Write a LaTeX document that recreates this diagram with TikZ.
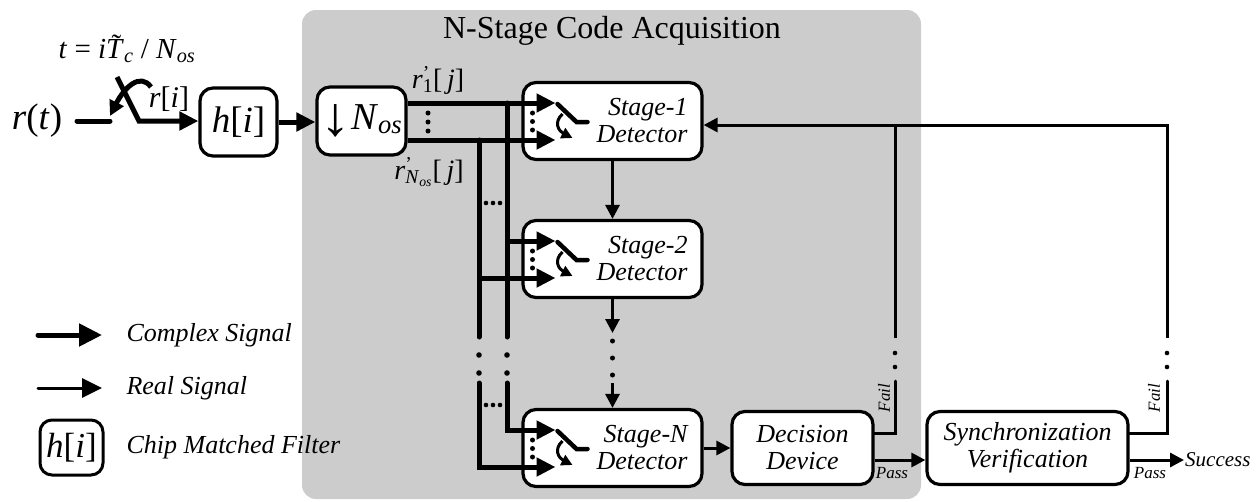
\documentclass[tikz,border=0pt]{standalone}
\usepackage{fontspec}
\setmainfont{Liberation Serif}
\usetikzlibrary{arrows.meta}
\definecolor{panelgray}{HTML}{CCCCCC}
\newcommand{\sig}[1]{\textit{#1}}
\newcommand{\tildeT}{\makebox[0pt][l]{\kern0.19em\raisebox{0.14em}{˜}}\sig{T}}
\newcommand{\downarr}{\raisebox{-0.16em}{\scalebox{1.6}[1.45]{\textbf{↓}}}}
\begin{document}
\begin{tikzpicture}[x=1pt,y=-1pt,
  box/.style={draw, line width=3.2pt, rounded corners=13pt, fill=white, inner sep=0pt},
  cplx/.style={line width=5pt, -{Triangle[length=19pt,width=18pt]}},
  realsig/.style={line width=3pt, -{Triangle[length=14pt,width=14pt]}},
  wire/.style={line width=3pt},
  bus/.style={line width=5pt},
  lbl/.style={font=\fontsize{26}{27}\selectfont\itshape, align=center},
  small/.style={font=\fontsize{17}{17}\selectfont\itshape, inner sep=1pt}
]
\useasboundingbox (0,0) rectangle (1258,501);

% acquisition panel
\fill[panelgray, rounded corners=14pt] (302,10) rectangle (921,499);
\node[font=\fontsize{32}{32}\selectfont] (title) at (612,31) {N-Stage Code Acquisition};

% input sampling switch, chip matched filter and down-sampler
\node[font=\fontsize{37}{37}\selectfont] (rt) at (37,121) {\sig{r}(\sig{t})};
\node[font=\fontsize{29}{29}\selectfont] (tlab) at (127,49)
  {\sig{t} = \sig{i}\tildeT\textsubscript{\sig{c}} / \sig{N}\textsubscript{\sig{os}}};
\node[box, minimum width=77pt, minimum height=68pt, font=\fontsize{37}{37}\selectfont] (h) at (238.5,122) {\sig{h}[\sig{i}]};
\node[box, minimum width=89pt, minimum height=68pt, font=\fontsize{38}{38}\selectfont] (nos) at (361.5,121) {\downarr\sig{N}\textsubscript{\sig{os}}};
\node[font=\fontsize{30}{30}\selectfont] (ri) at (169,99) {\sig{r}[\sig{i}]};

\coordinate (rin) at (77,121);
\coordinate (swin) at (110,121);
\coordinate (piv) at (139,121);
\coordinate (lever) at (117,77);
\coordinate (arcs) at (151,87);
\coordinate (arce) at (110,116);
\draw[bus, line cap=round] (rin) -- (swin);
\draw[cplx] (lever) -- (piv) -- (h.west |- piv);
\draw[line width=5pt, -{Triangle[length=15pt,width=15pt]}]
  (arcs) .. controls (140,72) and (124,88) .. (arce);
\draw[cplx] (h) -- (nos.west |- h);

% detector stages
\foreach \n/\y/\k in {stage1/121/1, stage2/259/2, stageN/448/N} {
  \node[box, minimum width=179pt, minimum height=77pt, lbl, text width=150pt, align=right]
    (\n) at (612.5,\y) {Stage-\k\\Detector};
  \begin{scope}[shift={(\n.center)}]
    \coordinate (\n-a) at (-57,-18);
    \coordinate (\n-b) at (-57,19);
    \coordinate (\n-p) at (-36,1);
    \draw[line width=4.5pt, line cap=round] (-55,-17) -- (\n-p) -- (-25,1);
    \draw[line width=3pt, -{Triangle[length=11pt,width=11pt]}]
      (-50,-7) .. controls (-59,1) and (-54,10) .. (-40,17);
    \foreach \d in {-8,0.5,9} \fill (-80,\d) circle[radius=2.5pt];
  \end{scope}
}

% polyphase outputs and distribution buses
\node[font=\fontsize{28}{28}\selectfont] (r1lab) at (438,80)
  {\sig{r}\rlap{\textsuperscript{'}}\textsubscript{1}[\,\sig{j}]};
\node[font=\fontsize{28}{28}\selectfont] (rnlab) at (429,172)
  {\sig{r}\rlap{\textsuperscript{'}}\textsubscript{\sig{N}\textsubscript{\sig{os}}}[\,\sig{j}]};
\draw[cplx] (nos.east |- stage1-a) -- (stage1-a);
\draw[cplx] (nos.east |- stage1-b) -- (stage1-b);
\foreach \d in {113,122,131} \fill (428,\d) circle[radius=2.5pt];

\coordinate (bR) at (507,337);
\coordinate (bL) at (479,337);
\coordinate (bR2) at (507,383);
\coordinate (bL2) at (479,383);
\draw[bus, line cap=round] (bR |- stage1-a) -- (bR);
\draw[bus, line cap=round] (bL |- stage1-b) -- (bL);
\draw[cplx] (bR |- stage2-a) -- (stage2-a);
\draw[cplx] (bL |- stage2-b) -- (stage2-b);
\draw[cplx, line cap=round] (bR2) -- (bR2 |- stageN-a) -- (stageN-a);
\draw[cplx, line cap=round] (bL2) -- (bL2 |- stageN-b) -- (stageN-b);
\foreach \x in {479,507} \foreach \yy in {355,373} \fill (\x,\yy) circle[radius=2.8pt];
\foreach \x in {486,493,500} {
  \fill (\x,203) circle[radius=2.3pt];
  \fill (\x,405) circle[radius=2.3pt];
}

% stage chaining
\coordinate (v2end) at (612.5,333);
\coordinate (vNstart) at (612.5,383);
\draw[realsig] (stage1) -- (stage2);
\draw[realsig] (stage2.south) -- (v2end);
\foreach \yy in {341,358,375} \fill (612.5,\yy) circle[radius=2.5pt];
\draw[realsig] (vNstart) -- (stageN.north);

% decision and verification
\node[box, minimum width=141pt, minimum height=73pt, lbl] (dec) at (802.5,448) {Decision\\Device};
\node[box, minimum width=201pt, minimum height=73pt, lbl] (sync) at (1027.5,448) {Synchronization\\Verification};
\draw[realsig] (stageN) -- (dec);
\draw[realsig] ([yshift=-12pt]dec.east) -- ([yshift=-12pt]sync.west);
\node[small] (dpass) at (892,473) {Pass};
\node[small, rotate=90] (dfail) at (884,398) {Fail};
\node[small] (spass) at (1150,473) {Pass};
\node[small, rotate=90] (sfail) at (1154,398) {Fail};
\node[font=\fontsize{21}{21}\selectfont\itshape, anchor=west, inner sep=1pt] (succ) at (1184,460) {Success};
\draw[realsig] ([yshift=-12pt]sync.east) -- (succ.west);

% fail feedback to the first stage
\coordinate (dcorner) at (895,433);
\coordinate (dgap1) at (895,381);
\coordinate (dgap2) at (895,338);
\coordinate (djoin) at (895,125);
\coordinate (scorner) at (1167,433);
\coordinate (sgap1) at (1167,381);
\coordinate (sgap2) at (1167,338);
\coordinate (stopc) at (1167,125);
\draw[wire, line cap=round] (dec.east |- dcorner) -- (dcorner) -- (dgap1);
\draw[wire] (dgap2) -- (djoin);
\draw[wire, line cap=round] (sync.east |- scorner) -- (scorner) -- (sgap1);
\draw[realsig] (sgap2) -- (stopc) -- (stage1.east |- stopc);
\foreach \x in {895,1167} \foreach \yy in {367,353} \fill (\x,\yy) circle[radius=2.3pt];

% legend
\coordinate (lc1) at (38,335);
\coordinate (lc2) at (102,335);
\coordinate (lr1) at (38,388);
\coordinate (lr2) at (102,388);
\draw[bus, line cap=round, -{Triangle[length=23pt,width=22pt]}] (lc1) -- (lc2);
\draw[line width=3pt, line cap=round, -{Triangle[length=20pt,width=19pt]}] (lr1) -- (lr2);
\node[lbl, anchor=west] (lgc) at (123,335) {Complex Signal};
\node[lbl, anchor=west] (lgr) at (123,388) {Real Signal};
\node[box, line width=3pt, rounded corners=12pt, minimum width=63pt, minimum height=55pt,
  font=\fontsize{35}{35}\selectfont] (lgh) at (71.5,447.5) {\sig{h}[\sig{i}]};
\node[lbl, anchor=west] (lgf) at (123,447) {Chip Matched Filter};
\end{tikzpicture}
\end{document}
